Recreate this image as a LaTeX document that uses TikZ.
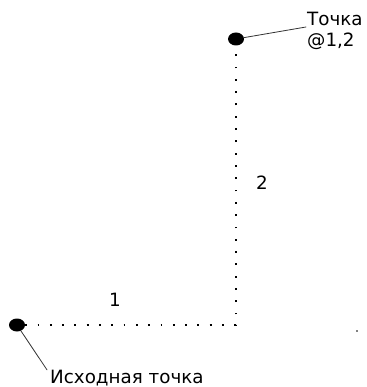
\documentclass[tikz,border=0pt]{standalone}
\usepackage{fontspec}
\setmainfont{DejaVu Sans}
\usetikzlibrary{positioning,shapes.geometric}
\tikzset{pointdot/.style={ellipse, fill, minimum width=16pt, minimum height=13pt, inner sep=0pt},
	leader/.style={draw=black!80, line width=0.8pt},
	path/.style={line width=1.5pt, dash pattern=on 1.8pt off 10.5pt, line cap=butt}}
\begin{document}
\begin{tikzpicture} [x=1pt, y=-1pt, font=\fontsize{18.3}{21}\selectfont, line cap = round, >=stealth]
	\useasboundingbox (0,0) rectangle (366,387);
	\node[pointdot] (start) at (17,325) {};
	\node[pointdot] (end) at (236,39) {};
	\coordinate (corner) at (236,325);
	\draw[path] (start) -- (corner) -- (end);
	\path (115,300) node (one) {1} (262,183) node (two) {2};
	\node[align=left, anchor=west, inner sep=1pt] (endlabel) at (306,31) {Точка\\@1,2};
	\node[anchor=west, inner sep=1pt] (startlabel) at (49,378) {Исходная точка};
	\draw[leader] (end) -- ([yshift=4pt]endlabel.west);
	\draw[leader] (start) -- ([shift={(-2pt,-1pt)}]startlabel.north west);
	\fill (357,331) circle (0.9);
\end{tikzpicture}
\end{document}
